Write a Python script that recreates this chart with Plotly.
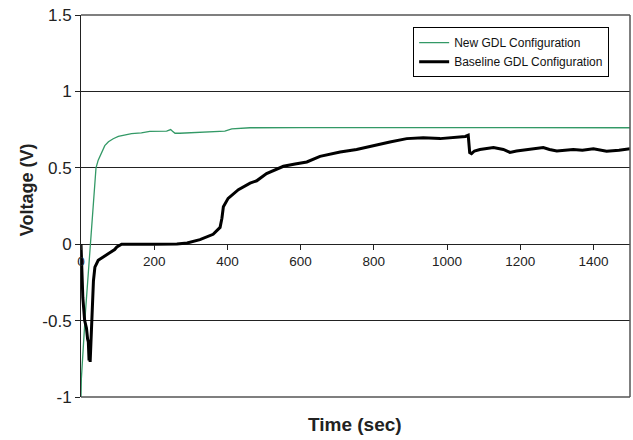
import plotly.graph_objects as go

# ---- data ----
new_t = [0, 1, 12, 25, 30, 36, 41, 47, 56, 65, 75, 88, 102, 120, 138, 165, 188, 234, 245,
         250, 257, 270, 300, 334, 393, 412, 462, 600, 800, 1000, 1200, 1500]
new_v = [-1.0, -0.88, -0.45, 0.0, 0.12, 0.33, 0.5, 0.55, 0.6, 0.645, 0.67, 0.69, 0.705, 0.713,
         0.724, 0.728, 0.738, 0.74, 0.75, 0.74, 0.726, 0.726, 0.73, 0.733, 0.74, 0.755, 0.762,
         0.763, 0.763, 0.762, 0.762, 0.762]

base_t = [0, 2, 5, 10, 15, 18, 20, 22, 23, 25, 28, 30, 32, 34, 38, 47, 66, 84, 92, 98, 111,
          200, 262, 290, 325, 361, 380, 385, 389, 402, 430, 462, 480, 507, 553, 585, 617, 653,
          708, 753, 799, 844, 890, 935, 981, 1008, 1050, 1058, 1062, 1067, 1075, 1090, 1127,
          1154, 1172, 1190, 1218, 1263, 1280, 1300, 1345, 1370, 1400, 1436, 1470, 1500]
base_v = [0.0, -0.2, -0.35, -0.5, -0.55, -0.62, -0.64, -0.76, -0.66, -0.77, -0.6, -0.5, -0.35,
          -0.24, -0.15, -0.105, -0.075, -0.05, -0.035, -0.018, 0.0,
          0.0, 0.002, 0.008, 0.03, 0.065, 0.11, 0.17, 0.245, 0.30, 0.357, 0.40, 0.415, 0.462,
          0.51, 0.525, 0.538, 0.575, 0.603, 0.62, 0.647, 0.669, 0.691, 0.697, 0.691, 0.697,
          0.705, 0.713, 0.60, 0.593, 0.61, 0.62, 0.632, 0.62, 0.601, 0.61, 0.62, 0.632, 0.62,
          0.61, 0.62, 0.615, 0.625, 0.608, 0.615, 0.625]

x_ticks = [0, 200, 400, 600, 800, 1000, 1200, 1400]
y_ticks = [-1, -0.5, 0, 0.5, 1, 1.5]
y_labels = ["-1", "-0.5", "0", "0.5", "1", "1.5"]

FONT = "Liberation Sans, Arial, sans-serif"

fig = go.Figure()
fig.add_trace(go.Scatter(x=new_t, y=new_v, mode="lines", name="New GDL Configuration",
                         line=dict(color="#339966", width=1.3)))
fig.add_trace(go.Scatter(x=base_t, y=base_v, mode="lines", name="Baseline GDL Configuration",
                         line=dict(color="#000000", width=3)))

fig.update_layout(
    width=633, height=440,
    margin=dict(l=81, r=3, t=15, b=43),
    paper_bgcolor="white", plot_bgcolor="white",
    font=dict(family=FONT, color="#222"),
    showlegend=True,
    legend=dict(x=0.605, y=0.968, xanchor="left", yanchor="top",
                bgcolor="white", bordercolor="#000", borderwidth=1,
                font=dict(size=12, family=FONT, color="#111"),
                itemwidth=30, tracegroupgap=0),
    xaxis=dict(range=[0, 1500], anchor="free", position=0.4,
               tickvals=x_ticks, ticks="outside", ticklen=5, tickcolor="#222",
               showgrid=False, zeroline=False, showline=False,
               tickfont=dict(size=13.5, color="#222")),
    yaxis=dict(range=[-1, 1.5], tickvals=y_ticks, ticktext=y_labels,
               ticks="outside", ticklen=5, tickcolor="#222",
               showline=True, linecolor="#222", linewidth=1,
               showgrid=True, gridcolor="#222", gridwidth=1, zeroline=False,
               tickfont=dict(size=17, color="#222")),
    shapes=[
        dict(type="line", xref="paper", yref="paper", x0=0, x1=1, y0=1, y1=1,
             line=dict(color="#555", width=1.5)),
        dict(type="line", xref="paper", yref="paper", x0=1, x1=1, y0=0, y1=1,
             line=dict(color="#555", width=1.5)),
        dict(type="line", xref="paper", yref="paper", x0=0, x1=1, y0=0, y1=0,
             line=dict(color="#555", width=1.5)),
    ],
    annotations=[
        dict(text="<b>Voltage (V)</b>", xref="paper", yref="paper", x=-0.098, y=0.542,
             textangle=-90, showarrow=False, font=dict(size=18, family=FONT, color="#222"),
             xanchor="center", yanchor="middle"),
        dict(text="<b>Time (sec)</b>", xref="paper", yref="paper", x=0.499, y=-0.0707,
             showarrow=False, font=dict(size=19, family=FONT, color="#222"),
             xanchor="center", yanchor="middle"),
    ],
)

fig.write_html("out.html",
               config={"displayModeBar": False},
               post_script="document.body.style.margin='0';document.body.style.overflow='hidden';")
